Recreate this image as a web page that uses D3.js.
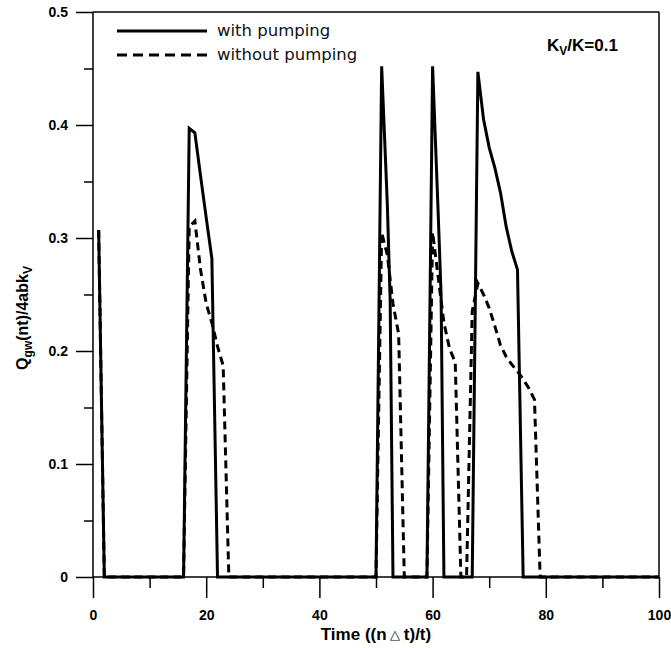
<!DOCTYPE html>
<html>
<head>
<meta charset="utf-8">
<script src="https://cdn.jsdelivr.net/npm/d3@7"></script>
<style>
  body { margin: 0; background: #fff; }
  .tick text { font-family: "Liberation Sans", Arial, sans-serif; font-weight: bold; font-size: 14px; }
  .lbl { font-family: "Liberation Sans", Arial, sans-serif; font-weight: bold; }
  .leg { font-family: "DejaVu Sans", sans-serif; font-size: 16.5px; fill: #111; }
</style>
</head>
<body>
<div id="chart"></div>
<script>
// values
const timeWith = [1, 2, 16, 17, 18, 19, 20, 21, 22, 50, 51, 52, 52.5, 53, 59, 60, 61, 61.5, 62,
  67, 68, 69, 70, 71, 72, 73, 74, 75, 76, 100];
const qWith = [0.307, 0, 0, 0.397, 0.393, 0.355, 0.318, 0.282, 0, 0, 0.452, 0.33, 0.245, 0, 0, 0.452, 0.32, 0.25, 0,
  0, 0.447, 0.405, 0.38, 0.362, 0.34, 0.31, 0.288, 0.272, 0, 0];

const timeWithout = [1, 2, 16, 17, 18, 19, 20, 21, 22, 23, 24, 50, 51, 52, 53, 54, 55,
  59, 60, 61, 62, 63, 64, 65, 66, 67, 68, 69, 70, 71, 72, 73, 74, 75, 76, 77, 78, 79, 100];
const qWithout = [0.307, 0, 0, 0.31, 0.315, 0.272, 0.242, 0.225, 0.204, 0.187, 0, 0, 0.305, 0.285, 0.242, 0.215, 0,
  0, 0.305, 0.265, 0.225, 0.202, 0.19, 0, 0, 0.235, 0.26, 0.25, 0.238, 0.222, 0.205, 0.195, 0.188, 0.182, 0.175, 0.167, 0.157, 0, 0];

const xTicks = [0, 20, 40, 60, 80, 100];
const yTicks = [0, 0.1, 0.2, 0.3, 0.4, 0.5];
const legendNames = ["with pumping", "without pumping"];

const W = 671, H = 648;
const margin = { top: 12, right: 12, bottom: 71, left: 93 };
const width = W - margin.left - margin.right;
const height = H - margin.top - margin.bottom;

const svg = d3.select("#chart").append("svg")
    .attr("width", W)
    .attr("height", H);

const g = svg.append("g")
    .attr("transform", "translate(" + margin.left + "," + margin.top + ")");

const x = d3.scaleLinear().domain([0, 100]).range([0, width]);
const y = d3.scaleLinear().domain([0, 0.5]).range([height, 0]);

// frame top/right
g.append("line").attr("x1", 0).attr("x2", width).attr("y1", 0).attr("y2", 0)
    .attr("stroke", "#000").attr("stroke-width", 1.5);
g.append("line").attr("x1", width).attr("x2", width).attr("y1", 0).attr("y2", height)
    .attr("stroke", "#000").attr("stroke-width", 1.5);

// minor ticks
g.append("g")
    .attr("transform", "translate(0," + height + ")")
    .call(d3.axisBottom(x).tickValues(d3.range(10, 100, 20)).tickSize(11).tickFormat(""))
    .call(a => a.select(".domain").remove())
    .selectAll("line").attr("stroke-width", 1.5);
g.append("g")
    .call(d3.axisLeft(y).tickValues(d3.range(0.05, 0.5, 0.1)).tickSize(9).tickFormat(""))
    .call(a => a.select(".domain").remove())
    .selectAll("line").attr("stroke-width", 1.5);

// major axes
const xAxis = g.append("g")
    .attr("transform", "translate(0," + height + ")")
    .call(d3.axisBottom(x).tickValues(xTicks).tickSize(21).tickPadding(12).tickFormat(d3.format("d")));
const yAxis = g.append("g")
    .call(d3.axisLeft(y).tickValues(yTicks).tickSize(17).tickPadding(8).tickFormat(d => d === 0 ? "0" : d3.format(".1f")(d)));
[xAxis, yAxis].forEach(a => {
  a.select(".domain").attr("stroke-width", 1.5);
  a.selectAll(".tick line").attr("stroke-width", 1.5);
  a.selectAll(".tick text").attr("fill", "#000");
});
yAxis.select(".domain").attr("d", "M0,0V" + height);
xAxis.select(".domain").attr("d", "M0,0H" + width);

// curves
const line = d3.line().x(d => x(d[0])).y(d => y(d[1]));
const withData = timeWith.map((t, i) => [t, qWith[i]]);
const withoutData = timeWithout.map((t, i) => [t, qWithout[i]]);

g.append("path").datum(withoutData)
    .attr("d", line)
    .attr("fill", "none").attr("stroke", "#000").attr("stroke-width", 3)
    .attr("stroke-dasharray", "8,5");
g.append("path").datum(withData)
    .attr("d", line)
    .attr("fill", "none").attr("stroke", "#000").attr("stroke-width", 3)
    .attr("stroke-linejoin", "miter");

// legend
const leg = g.append("g").attr("transform", "translate(24,19)");
legendNames.forEach((name, i) => {
  leg.append("line")
      .attr("x1", 0).attr("x2", 90).attr("y1", i * 24).attr("y2", i * 24)
      .attr("stroke", "#000").attr("stroke-width", 3)
      .attr("stroke-dasharray", i === 1 ? "10,6" : null);
  leg.append("text").attr("class", "leg")
      .attr("x", 100).attr("y", i * 24 + 5)
      .text(name);
});

// annotation
const ann = g.append("text").attr("class", "lbl")
    .attr("x", 454).attr("y", 39).attr("font-size", 17);
ann.append("tspan").text("K");
ann.append("tspan").attr("font-size", 12).attr("dy", 4).text("V");
ann.append("tspan").attr("dy", -4).text("/K=0.1");

// axis titles
const xt = svg.append("text").attr("class", "lbl")
    .attr("x", margin.left + width / 2).attr("y", 640)
    .attr("text-anchor", "middle").attr("font-size", 17);
xt.append("tspan").text("Time ((n");
xt.append("tspan").attr("font-size", 13).attr("font-weight", "normal").attr("dy", -1).text(" △ ");
xt.append("tspan").attr("dy", 1).text("t)/t)");

const yt = svg.append("text").attr("class", "lbl")
    .attr("transform", "translate(28,318) rotate(-90)")
    .attr("text-anchor", "middle").attr("font-size", 16);
yt.append("tspan").text("Q");
yt.append("tspan").attr("font-size", 12).attr("dy", 4).text("gw");
yt.append("tspan").attr("dy", -4).text("(nt)/4abk");
yt.append("tspan").attr("font-size", 12).attr("dy", 4).text("V");
</script>
</body>
</html>
